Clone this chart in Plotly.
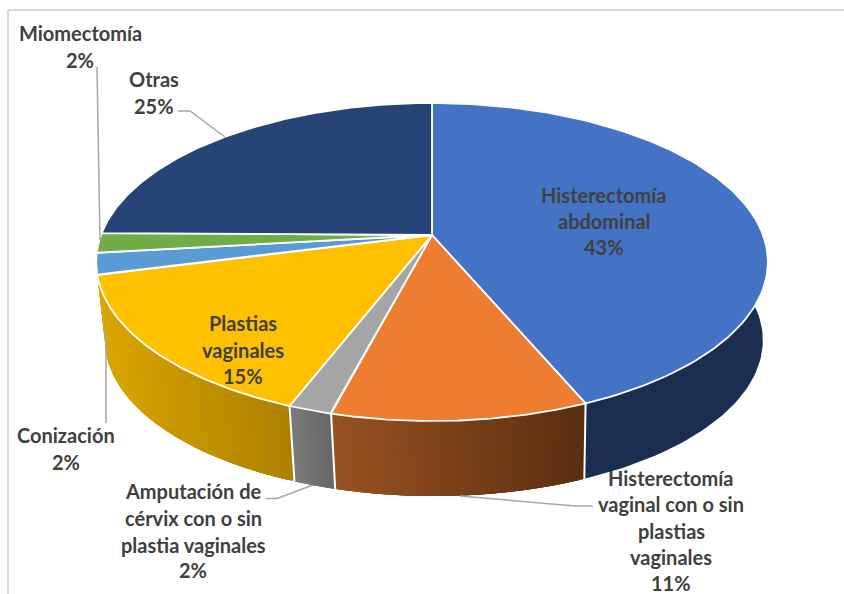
import numpy as np
import plotly.graph_objects as go

# values, percentage of surgeries
categories = ["Histerectomía abdominal", "Histerectomía vaginal con o sin plastias vaginales",
              "Amputación de cérvix con o sin plastia vaginales", "Plastias vaginales",
              "Conización", "Miomectomía", "Otras"]
values = [43.6, 10.5, 1.8, 15.1, 2.2, 2.0, 24.8]
shown_pct = ["43%", "11%", "2%", "15%", "2%", "2%", "25%"]

top_colors = ["#4472C4", "#ED7D31", "#A5A5A5", "#FFC000", "#5B9BD5", "#70AD47", "#264478"]
# wall gradient, left to right on screen. None = wall is hidden behind the disc
wall_colors = [((27, 46, 82), (27, 46, 82)), ((152, 82, 33), (90, 46, 17)), ((124, 124, 124), (104, 104, 104)),
               ((218, 166, 0), (172, 128, 0)), None, None, None]

# label lines + centre x + y of each line
label_lines = [
    (["Histerectomía", "abdominal"], 604, [195, 221, 247]),
    (["Histerectomía", "vaginal con o sin", "plastias", "vaginales"], 671, [478, 504, 531, 557, 583]),
    (["Amputación de", "cérvix con o sin", "plastia vaginales"], 193, [491, 518, 545, 570]),
    (["Plastias", "vaginales"], 243, [323, 350, 376]),
    (["Conización"], 66, [435, 462]),
    (["Miomectomía"], 80, [33, 60]),
    (["Otras"], 154, [79, 106]),
]
leaders = [
    ([593, 575, 460], [506, 506, 496]),
    ([266, 277, 313], [498.5, 498.5, 485]),
    ([106, 106], [423, 332]),
    ([97, 100], [67, 240]),
    ([178, 190, 225], [111, 111, 137]),
]

# perspective of the pie disc
CX, CY = 432, 235
A, B, K = 331, 154.4, 0.17
WALL_DX, WALL_SHIFT, WALL_SCALE = 2, 78.9, 0.979


def project(theta, bottom=False):
    u, v = np.sin(theta), np.cos(theta)
    w = 1 + K * v
    x, y = A * u / w, -B * v / w
    if bottom:
        return CX + WALL_DX + WALL_SCALE * x, CY + WALL_SHIFT + WALL_SCALE * y
    return CX + x, CY + y


def mix(c0, c1, t):
    return "rgb(%d,%d,%d)" % tuple(round(a + (b - a) * t) for a, b in zip(c0, c1))


edges = np.cumsum([0] + values) / sum(values) * 2 * np.pi
fig = go.Figure()

# walls first, the top disc covers whatever is behind
for i in range(len(values)):
    if wall_colors[i] is None:
        continue
    c0, c1 = wall_colors[i]
    th = np.linspace(edges[i], edges[i + 1], 121)
    xt, yt = project(th)
    xb, yb = project(th, bottom=True)
    if c0 == c1:
        fig.add_trace(go.Scatter(x=np.r_[xt, xb[::-1]], y=np.r_[yt, yb[::-1]], mode="lines", fill="toself",
                                 fillcolor=mix(c0, c1, 0), line=dict(width=0), hoverinfo="skip"))
        continue
    lo, hi = xt.min(), xt.max()
    # each strip runs a little into the next one so no seams show through
    for j in range(len(th) - 1):
        t = ((xt[j] + xt[j + 1]) / 2 - lo) / (hi - lo)
        k = min(j + 4, len(th) - 1)
        col = mix(c0, c1, t)
        fig.add_trace(go.Scatter(x=np.r_[xt[j:k + 1], xb[j:k + 1][::-1]], y=np.r_[yt[j:k + 1], yb[j:k + 1][::-1]],
                                 mode="lines", fill="toself", fillcolor=col,
                                 line=dict(width=0), hoverinfo="skip"))

# white seams between wall sections
for e in edges[:-1]:
    if np.cos(e) < -0.5:
        x0, y0 = project(e)
        x1, y1 = project(e, bottom=True)
        fig.add_trace(go.Scatter(x=[x0, x1], y=[y0, y1], mode="lines",
                                 line=dict(color="white", width=2), hoverinfo="skip"))

# top slices
for i in range(len(values)):
    th = np.linspace(edges[i], edges[i + 1], 120)
    xt, yt = project(th)
    fig.add_trace(go.Scatter(x=np.r_[CX, xt, CX], y=np.r_[CY, yt, CY], mode="lines", fill="toself",
                             fillcolor=top_colors[i], line=dict(color="white", width=1.8),
                             name=categories[i], hoverinfo="skip"))

for lx, ly in leaders:
    fig.add_trace(go.Scatter(x=lx, y=ly, mode="lines", line=dict(color="#A6A6A6", width=1.5), hoverinfo="skip"))

for (lines, xc, ys), pct in zip(label_lines, shown_pct):
    for txt, y in zip(lines + [pct], ys):
        fig.add_annotation(x=xc, y=y, text="<b>%s</b>" % txt, showarrow=False,
                           font=dict(family="Lato", size=20, color="#404040"))

# chart frame, only top and left are inside the crop
fig.add_shape(type="line", x0=8, y0=10, x1=844, y1=10, line=dict(color="#D9D9D9", width=2))
fig.add_shape(type="line", x0=8, y0=10, x1=8, y1=594, line=dict(color="#D9D9D9", width=2))

fig.update_xaxes(range=[0, 844], visible=False, fixedrange=True)
fig.update_yaxes(range=[594, 0], visible=False, fixedrange=True)
fig.update_layout(width=844, height=594, margin=dict(l=0, r=0, t=0, b=0), showlegend=False,
                  plot_bgcolor="white", paper_bgcolor="white")

# page margin off so the figure sits at the window corner
fig.write_html("out.html", config={"displayModeBar": False},
               post_script="document.body.style.margin='0';document.body.style.overflow='hidden';")
